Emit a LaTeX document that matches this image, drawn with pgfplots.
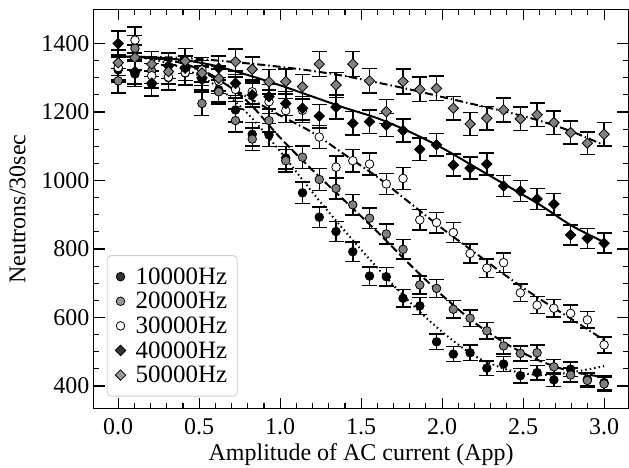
\documentclass[border=0pt]{standalone}
\usepackage{fontspec}
\setmainfont{Liberation Serif}
\usepackage{pgfplots}
\usepackage{pgfplotstable}
\pgfplotsset{compat=1.18}
\definecolor{mgray}{HTML}{808080}

\pgfplotstableread{
x y e
0.0000 1323 36
0.1034 1311 36
0.2069 1282 36
0.3103 1318 36
0.4138 1328 36
0.5172 1295 36
0.6207 1265 36
0.7241 1206 35
0.8276 1135 34
0.9310 1133 34
1.0345 1066 33
1.1379 964 31
1.2414 893 30
1.3448 851 29
1.4483 792 28
1.5517 721 27
1.6552 719 27
1.7586 656 26
1.8621 634 25
1.9655 529 23
2.0690 493 22
2.1724 497 22
2.2759 452 21
2.3793 464 22
2.4828 430 21
2.5862 439 21
2.6897 418 20
2.7931 449 21
2.8966 420 20
3.0000 410 20
}\dA

\pgfplotstableread{
x y e
0.0000 1291 36
0.1034 1386 37
0.2069 1320 36
0.3103 1300 36
0.4138 1314 36
0.5172 1225 35
0.6207 1259 35
0.7241 1175 34
0.8276 1121 33
0.9310 1175 34
1.0345 1058 33
1.1379 1068 33
1.2414 1003 32
1.3448 977 31
1.4483 929 30
1.5517 890 30
1.6552 844 29
1.7586 799 28
1.8621 695 26
1.9655 685 26
2.0690 624 25
2.1724 598 24
2.2759 561 24
2.3793 517 23
2.4828 495 22
2.5862 497 22
2.6897 456 21
2.7931 432 21
2.8966 416 20
3.0000 406 20
}\dB

\pgfplotstableread{
x y e
0.0000 1330 36
0.1034 1410 38
0.2069 1306 36
0.3103 1302 36
0.4138 1315 36
0.5172 1323 36
0.6207 1290 36
0.7241 1266 36
0.8276 1259 35
0.9310 1230 35
1.0345 1204 35
1.1379 1205 35
1.2414 1127 34
1.3448 1039 32
1.4483 1058 33
1.5517 1048 32
1.6552 990 31
1.7586 1006 32
1.8621 885 30
1.9655 877 30
2.0690 848 29
2.1724 787 28
2.2759 744 27
2.3793 760 28
2.4828 672 26
2.5862 636 25
2.6897 627 25
2.7931 612 25
2.8966 593 24
3.0000 520 23
}\dC

\pgfplotstableread{
x y e
0.0000 1400 37
0.1034 1318 36
0.2069 1284 36
0.3103 1335 37
0.4138 1328 36
0.5172 1300 36
0.6207 1328 36
0.7241 1284 36
0.8276 1250 35
0.9310 1245 35
1.0345 1225 35
1.1379 1211 35
1.2414 1188 34
1.3448 1214 35
1.4483 1167 34
1.5517 1172 34
1.6552 1162 34
1.7586 1146 34
1.8621 1091 33
1.9655 1104 33
2.0690 1045 32
2.1724 1036 32
2.2759 1048 32
2.3793 984 31
2.4828 969 31
2.5862 946 31
2.6897 931 31
2.7931 841 29
2.8966 831 29
3.0000 817 29
}\dD

\pgfplotstableread{
x y e
0.0000 1344 37
0.1034 1359 37
0.2069 1340 37
0.3103 1318 36
0.4138 1349 37
0.5172 1314 36
0.6207 1298 36
0.7241 1347 37
0.8276 1325 36
0.9310 1288 36
1.0345 1289 36
1.1379 1274 36
1.2414 1340 37
1.3448 1279 36
1.4483 1340 37
1.5517 1291 36
1.6552 1201 35
1.7586 1289 36
1.8621 1266 36
1.9655 1269 36
2.0690 1211 35
2.1724 1165 34
2.2759 1182 34
2.3793 1206 35
2.4828 1180 34
2.5862 1192 35
2.6897 1169 34
2.7931 1140 34
2.8966 1109 33
3.0000 1135 34
}\dE

\begin{document}
\begin{tikzpicture}
\begin{axis}[
  at={(0,0)}, anchor=south west,
  scale only axis, width=535pt, height=400pt,
  xmin=-0.15, xmax=3.15, ymin=333, ymax=1500,
  xtick={0,0.5,1,1.5,2,2.5,3},
  xticklabels={0.0,0.5,1.0,1.5,2.0,2.5,3.0},
  minor x tick num=4,
  ytick={400,600,800,1000,1200,1400},
  minor y tick num=3,
  tick align=inside, tick pos=both,
  major tick length=11pt, minor tick length=5.5pt,
  every tick/.style={black, line width=1.1pt},
  axis line style={line width=1.1pt},
  /pgf/number format/assume math mode=true,
  /pgf/number format/1000 sep={},
  tick label style={font=\fontsize{24}{28}\selectfont},
  xticklabel style={yshift=-6pt},
  yticklabel style={xshift=-1pt},
  label style={font=\fontsize{24}{28}\selectfont},
  xlabel={Amplitude of AC current (App)},
  ylabel={Neutrons/30sec},
  xlabel style={yshift=-2pt},
  ylabel style={yshift=9pt},
  error bars/y dir=both, error bars/y explicit,
  error bars/error bar style={line width=1.5pt, black},
  error bars/error mark options={rotate=90, mark size=7.5pt, line width=1.5pt, black},
  legend cell align=left,
  legend style={at={(0.0243,0.031)}, anchor=south west, rounded corners=4pt,
    draw=black!20, line width=0.8pt, fill=white, fill opacity=0.8, text opacity=1,
    font=\fontsize{25}{27}\selectfont, row sep=2.5pt, column sep=8pt,
    inner xsep=8pt, inner ysep=10pt},
]
\addplot[only marks, mark=*, mark size=4.3pt, mark options={fill=black, draw=black, line width=0.8pt}]
  table[x=x, y=y, y error=e] {\dA};
\addlegendentry{10000Hz}
\addplot[only marks, mark=*, mark size=4.3pt, mark options={fill=mgray, draw=black, line width=0.8pt}]
  table[x=x, y=y, y error=e] {\dB};
\addlegendentry{20000Hz}
\addplot[only marks, mark=*, mark size=4.3pt, mark options={fill=white, draw=black, line width=0.8pt}]
  table[x=x, y=y, y error=e] {\dC};
\addlegendentry{30000Hz}
\addplot[only marks, mark=square*, mark size=3.7pt, mark options={rotate=45, fill=black, draw=black, line width=0.8pt}]
  table[x=x, y=y, y error=e] {\dD};
\addlegendentry{40000Hz}
\addplot[only marks, mark=square*, mark size=3.7pt, mark options={rotate=45, fill=mgray, draw=black, line width=0.8pt}]
  table[x=x, y=y, y error=e] {\dE};
\addlegendentry{50000Hz}

\addplot[black, line width=2pt, dash pattern=on 1.5pt off 3pt, smooth, no marks, forget plot, error bars/y dir=none]
  coordinates {(0,1362) (0.2,1355) (0.4,1328) (0.6,1278) (0.8,1195) (1.0,1085) (1.2,965) (1.4,852) (1.6,745) (1.8,645) (2.0,558) (2.2,488) (2.4,448) (2.6,432) (2.8,440) (3.0,458)};
\addplot[black, line width=2pt, dash pattern=on 8pt off 3.5pt, smooth, no marks, forget plot, error bars/y dir=none]
  coordinates {(0,1362) (0.2,1358) (0.4,1342) (0.6,1302) (0.8,1230) (1.0,1125) (1.2,1030) (1.4,940) (1.6,850) (1.8,755) (2.0,665) (2.2,585) (2.4,522) (2.6,474) (2.8,442) (3.0,426)};
\addplot[black, line width=2pt, dash pattern=on 8pt off 3pt on 1.5pt off 3pt, smooth, no marks, forget plot, error bars/y dir=none]
  coordinates {(0,1362) (0.2,1358) (0.4,1342) (0.6,1298) (0.8,1243) (1.0,1190) (1.2,1140) (1.4,1075) (1.6,1010) (1.8,935) (2.0,860) (2.2,790) (2.4,720) (2.6,655) (2.8,595) (3.0,534)};
\addplot[black, line width=2pt, smooth, no marks, forget plot, error bars/y dir=none]
  coordinates {(0,1362) (0.2,1360) (0.4,1352) (0.6,1335) (0.8,1308) (1.0,1278) (1.2,1245) (1.4,1212) (1.6,1182) (1.8,1142) (2.0,1095) (2.2,1040) (2.4,985) (2.6,930) (2.8,868) (3.0,820)};
\addplot[black, line width=2pt, dash pattern=on 8pt off 3pt on 1.5pt off 3pt, smooth, no marks, forget plot, error bars/y dir=none]
  coordinates {(0,1362) (0.4,1358) (0.8,1342) (1.0,1332) (1.2,1320) (1.4,1305) (1.6,1286) (1.8,1266) (2.0,1244) (2.2,1222) (2.4,1200) (2.6,1175) (2.8,1143) (3.0,1103)};
\end{axis}
\pgfresetboundingbox
\path ([shift={(-94pt,-58.7pt)}]current axis.south west) rectangle ([shift={(0.6pt,9.3pt)}]current axis.north east);
\end{tikzpicture}
\end{document}
